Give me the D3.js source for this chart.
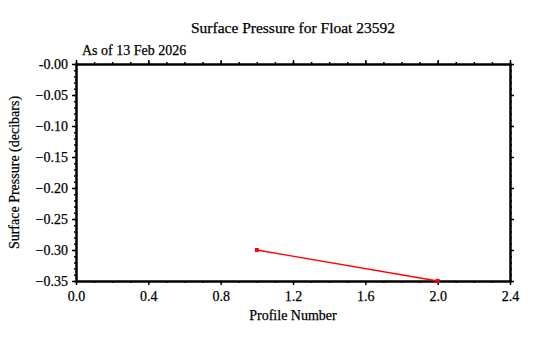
<!DOCTYPE html>
<html><head><meta charset="utf-8">
<script src="https://cdn.jsdelivr.net/npm/d3@7"></script>
<style>body{margin:0;background:#fff}text{font-family:"Liberation Serif","DejaVu Serif",serif;fill:#000;stroke:#000;stroke-width:0.25px}</style>
</head><body>
<script>
const profiles = [1, 2];
const pressures = [-0.30, -0.35];
const xTicks = [0.0, 0.4, 0.8, 1.2, 1.6, 2.0, 2.4];
const yTicks = [0, -0.05, -0.10, -0.15, -0.20, -0.25, -0.30, -0.35];
const title = "Surface Pressure for Float 23592";
const subtitle = "As of 13 Feb 2026";
const xLabel = "Profile Number";
const yLabel = "Surface Pressure (decibars)";

const W = 534, H = 338;
const m = {l: 76, r: 510, t: 64, b: 281};
const svg = d3.select("body").append("svg").attr("width", W).attr("height", H);
const x = d3.scaleLinear().domain([0, 2.4]).range([m.l, m.r]);
const y = d3.scaleLinear().domain([0, -0.35]).range([m.t, m.b]);

const fmtX = d3.format(".1f");
const fmtY = v => (v === 0 ? "-0.00" : d3.format(".2f")(v));
const xMinor = d3.range(0, 2.4001, 0.1);
const yMinor = d3.range(0, 36).map(i => -i / 100);

function axis(gen, tr) {
  return svg.append("g").attr("transform", tr).call(gen)
    .call(g => g.select(".domain").attr("stroke", "#000").attr("stroke-width", 2))
    .call(g => g.selectAll(".tick line").attr("stroke", "#000").attr("stroke-width", 1.5));
}
// minor ticks
axis(d3.axisBottom(x).tickValues(xMinor).tickSize(2).tickSizeOuter(0).tickFormat(""), `translate(0,${m.b})`);
axis(d3.axisTop(x).tickValues(xMinor).tickSize(2).tickSizeOuter(0).tickFormat(""), `translate(0,${m.t})`);
axis(d3.axisLeft(y).tickValues(yMinor).tickSize(2).tickSizeOuter(0).tickFormat(""), `translate(${m.l},0)`);
axis(d3.axisRight(y).tickValues(yMinor).tickSize(2).tickSizeOuter(0).tickFormat(""), `translate(${m.r},0)`);
// major ticks
axis(d3.axisBottom(x).tickValues(xTicks).tickSize(4).tickSizeOuter(0).tickFormat(fmtX).tickPadding(6), `translate(0,${m.b})`);
axis(d3.axisTop(x).tickValues(xTicks).tickSize(4).tickSizeOuter(0).tickFormat(""), `translate(0,${m.t})`);
axis(d3.axisLeft(y).tickValues(yTicks).tickSize(4).tickSizeOuter(0).tickFormat(fmtY).tickPadding(4), `translate(${m.l},0)`);
axis(d3.axisRight(y).tickValues(yTicks).tickSize(4).tickSizeOuter(0).tickFormat(""), `translate(${m.r},0)`);
svg.selectAll(".tick text").attr("font-size", 14).attr("font-family", "Liberation Serif").attr("fill", "#000");

// line
svg.append("path").datum(profiles.map((p, i) => [p, pressures[i]]))
  .attr("fill", "none").attr("stroke", "#ff0000").attr("stroke-width", 1.3)
  .attr("d", d3.line().x(d => x(d[0])).y(d => y(d[1])));
svg.selectAll("rect.pt").data(profiles).enter().append("rect")
  .attr("x", (d) => x(d) - 2).attr("y", (d, i) => y(pressures[i]) - 2)
  .attr("width", 4).attr("height", 4).attr("fill", "#ff0000");

svg.append("text").attr("x", (m.l + m.r) / 2).attr("y", 33).attr("text-anchor", "middle")
  .attr("font-size", 15.5).text(title);
svg.append("text").attr("x", 82).attr("y", 55).attr("font-size", 14).text(subtitle);
svg.append("text").attr("x", (m.l + m.r) / 2).attr("y", 320).attr("text-anchor", "middle")
  .attr("font-size", 14).text(xLabel);
svg.append("text").attr("transform", `translate(19,${(m.t + m.b) / 2}) rotate(-90)`)
  .attr("text-anchor", "middle").attr("font-size", 14).text(yLabel);
</script>
</body></html>
